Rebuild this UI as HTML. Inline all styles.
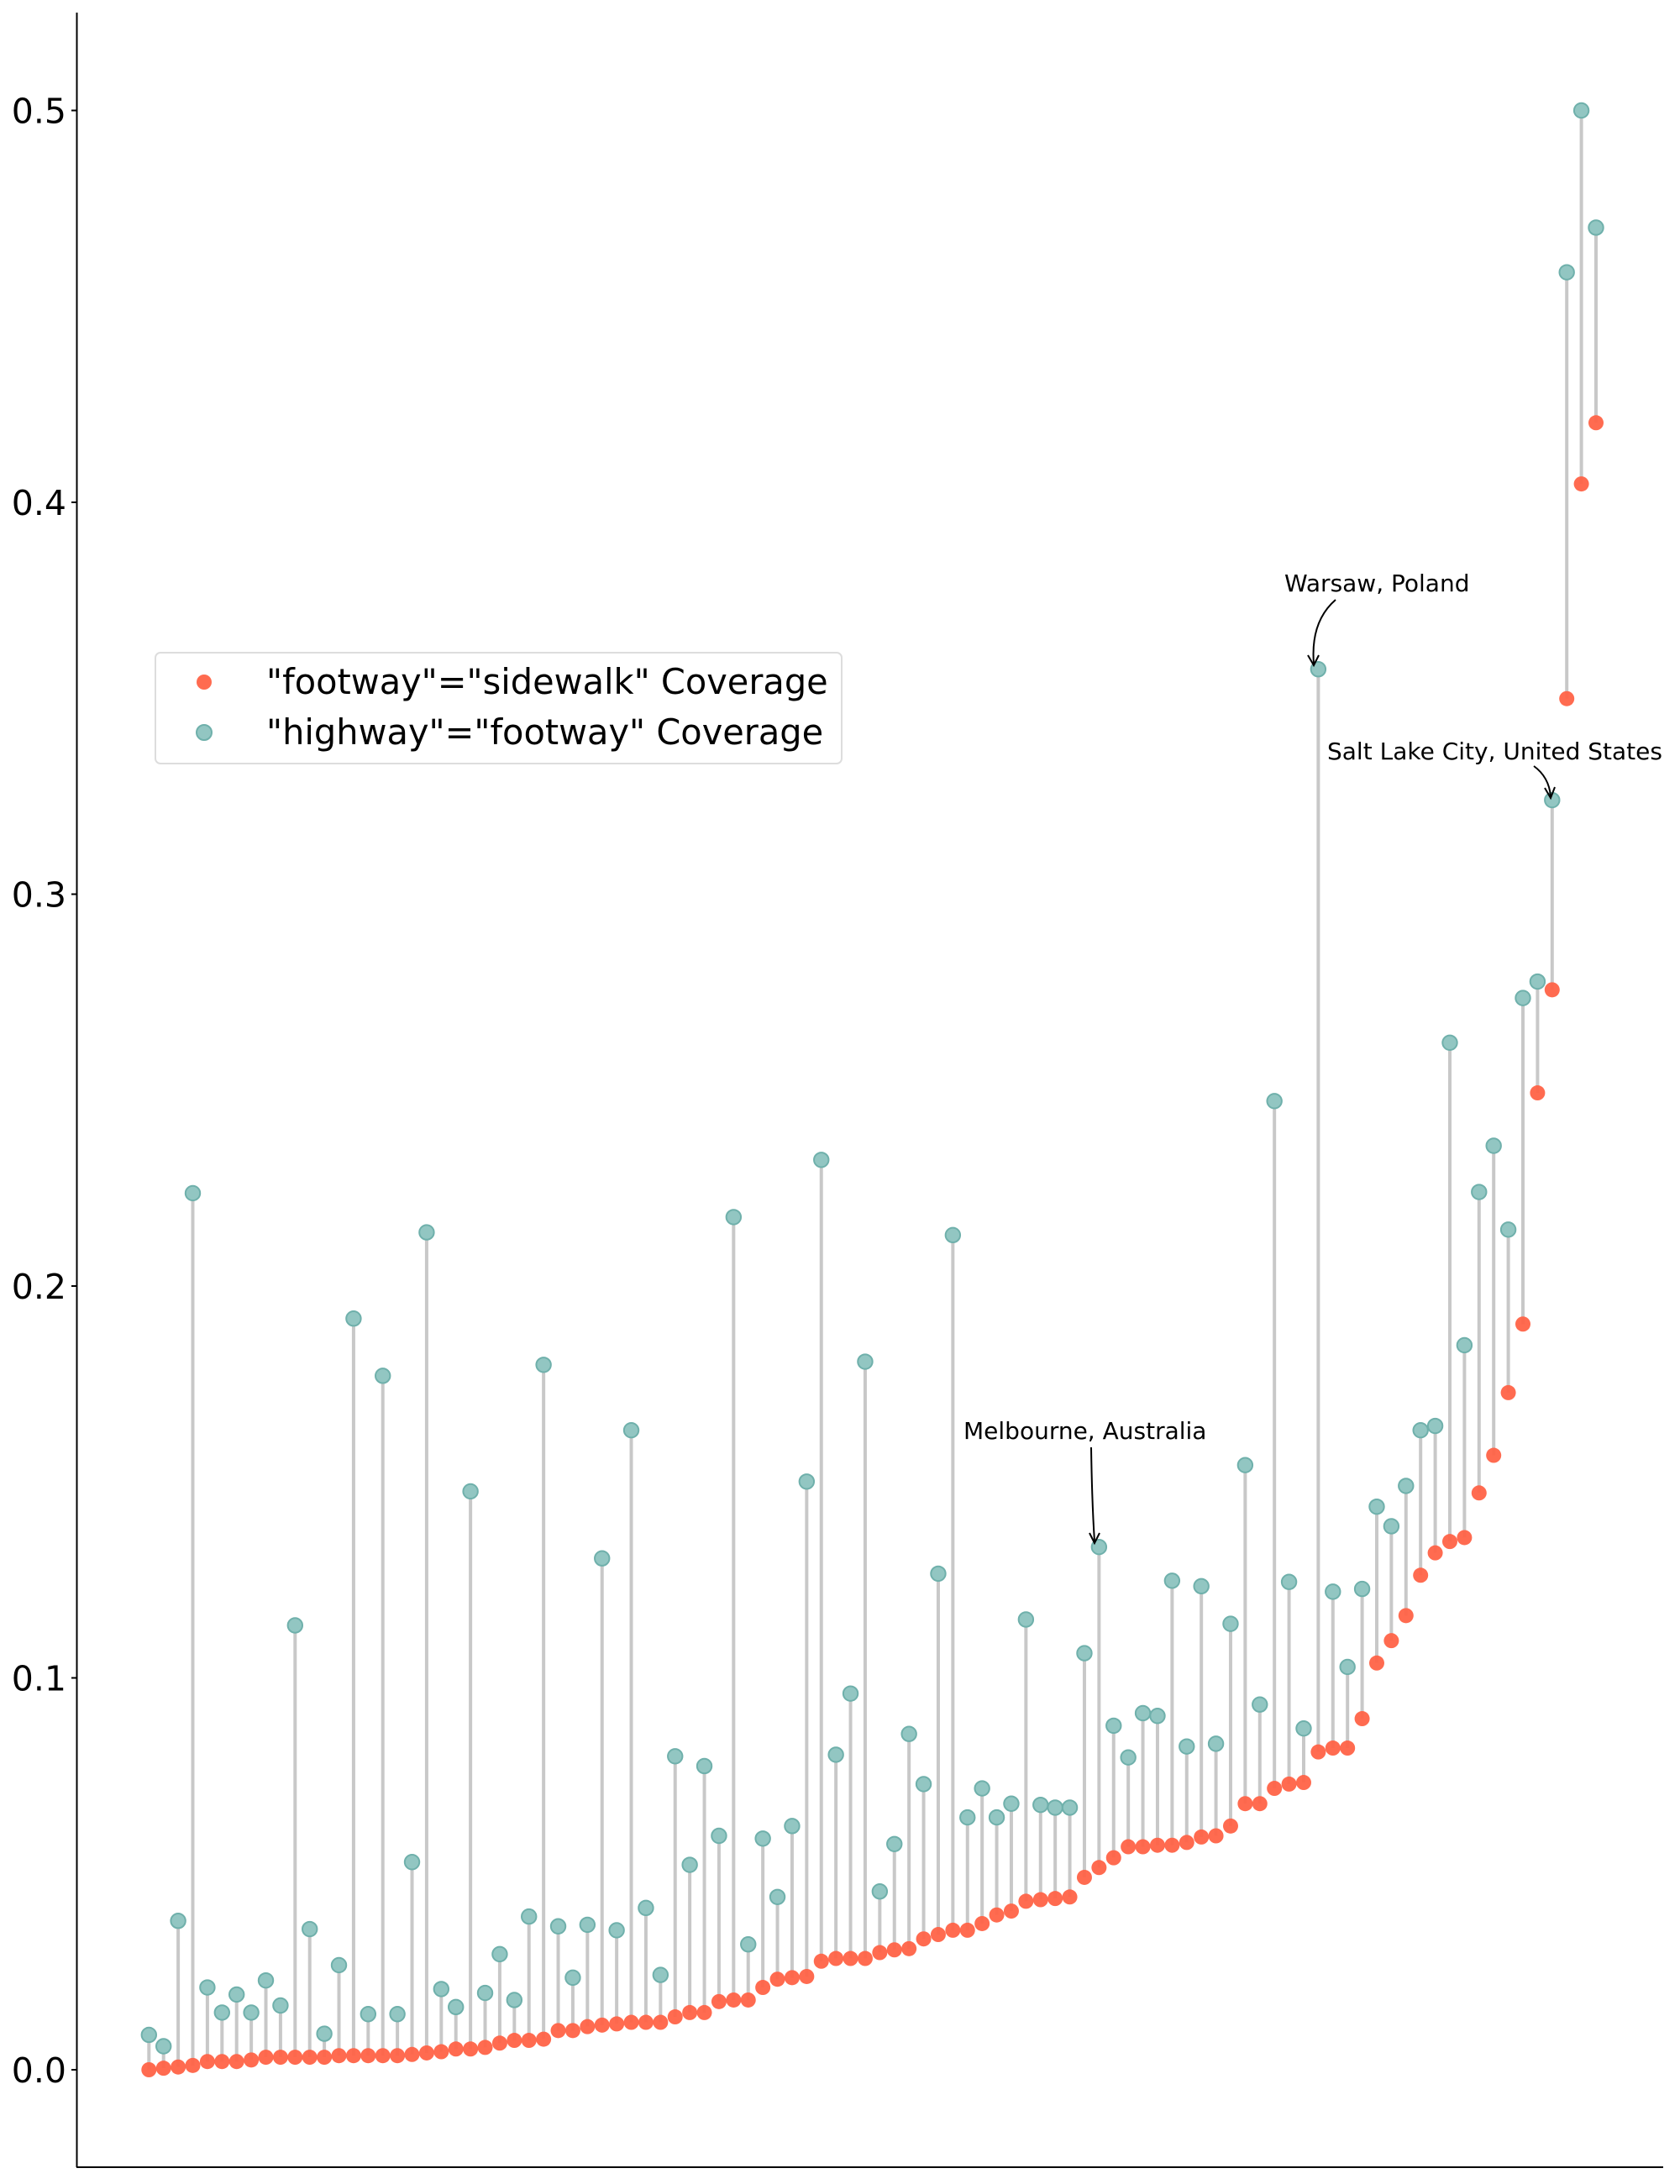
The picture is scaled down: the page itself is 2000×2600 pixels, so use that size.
<!DOCTYPE html>
<html><head><meta charset="utf-8"><style>
html,body{margin:0;padding:0;background:#fff;}
svg{display:block;font-family:"DejaVu Sans","Liberation Sans",sans-serif;}
</style></head><body>
<svg id="chart" width="2000" height="2600" viewBox="0 0 2000 2600" xmlns="http://www.w3.org/2000/svg">
<g id="axes">
<line x1="91.5" y1="15" x2="91.5" y2="2580" stroke="#000" stroke-width="2"/>
<line x1="91" y1="2580" x2="1980" y2="2580" stroke="#000" stroke-width="2"/>
</g>
<g id="stems"></g>
<g id="reds"></g>
<g id="greens"></g>
<g id="ticks"></g>
<g>
<rect x="185" y="777" width="817" height="132" rx="6" fill="#fff" fill-opacity="0.8" stroke="#ddd" stroke-width="2"/>
<circle cx="243" cy="812" r="9" fill="#ff6347" fill-opacity="0.95"/>
<text x="317" y="826" font-size="41.5">"footway"="sidewalk" Coverage</text>
<circle cx="243" cy="872" r="9" fill="#92c6c2" stroke="#6fb0ab" stroke-width="2"/>
<text x="317" y="886" font-size="41.5">"highway"="footway" Coverage</text>
</g>
<g>
<text x="1529" y="704" font-size="28">Warsaw, Poland</text>
<path d="M1590,714 Q1560,740 1564,790" fill="none" stroke="#000" stroke-width="2"/>
<path d="M1557,780 L1564,792 L1570,780" fill="none" stroke="#000" stroke-width="2"/>
<text x="1580" y="904" font-size="28">Salt Lake City, United States</text>
<path d="M1826,912 Q1844,925 1846,948" fill="none" stroke="#000" stroke-width="2"/>
<path d="M1839,938 L1846,950 L1851,937" fill="none" stroke="#000" stroke-width="2"/>
<text x="1147" y="1713" font-size="28">Melbourne, Australia</text>
<path d="M1299,1723 Q1300,1790 1303,1835" fill="none" stroke="#000" stroke-width="2"/>
<path d="M1297,1825 L1303,1837 L1309,1825" fill="none" stroke="#000" stroke-width="2"/>
</g>
</svg>
<script>
const sidewalk = [0,0.0004,0.0007,0.0011,0.0021,0.0021,0.0021,0.0025,0.0032,0.0032,0.0032,0.0032,0.0032,0.0036,0.0036,0.0036,0.0036,0.0036,0.0039,0.0043,0.0046,0.0053,0.0053,0.0057,0.0068,0.0075,0.0075,0.0078,0.01,0.01,0.011,0.0114,0.0117,0.0121,0.0121,0.0121,0.0135,0.0146,0.0146,0.0174,0.0178,0.0178,0.021,0.0231,0.0235,0.0238,0.0277,0.0284,0.0284,0.0284,0.0299,0.0306,0.0309,0.0334,0.0345,0.0356,0.0356,0.0373,0.0395,0.0405,0.043,0.0434,0.0437,0.0441,0.0491,0.0516,0.0541,0.0569,0.0569,0.0573,0.0573,0.058,0.0594,0.0597,0.0622,0.0679,0.0679,0.0718,0.0729,0.0733,0.0811,0.0821,0.0821,0.0896,0.1038,0.1095,0.1159,0.1262,0.1319,0.1348,0.1358,0.1472,0.1568,0.1728,0.1903,0.2493,0.2756,0.3499,0.4047,0.4203];
const footway = [0.0089,0.006,0.038,0.2237,0.021,0.0146,0.0192,0.0146,0.0228,0.0164,0.1134,0.0359,0.0092,0.0267,0.1917,0.0142,0.1771,0.0142,0.053,0.2137,0.0206,0.016,0.1476,0.0196,0.0295,0.0178,0.0391,0.1799,0.0366,0.0235,0.037,0.1305,0.0356,0.1632,0.0413,0.0242,0.08,0.0523,0.0775,0.0597,0.2176,0.032,0.059,0.0441,0.0622,0.1501,0.2322,0.0804,0.096,0.1807,0.0455,0.0576,0.0857,0.0729,0.1266,0.213,0.0644,0.0718,0.0644,0.0679,0.1149,0.0676,0.0669,0.0669,0.1063,0.1334,0.0878,0.0797,0.091,0.0903,0.1248,0.0825,0.1234,0.0832,0.1138,0.1543,0.0932,0.2472,0.1245,0.0871,0.3574,0.122,0.1028,0.1227,0.1437,0.1387,0.149,0.1632,0.1643,0.2621,0.1849,0.224,0.2358,0.2144,0.2735,0.2777,0.324,0.4587,0.5,0.4701];
const yTicks = [0.0,0.1,0.2,0.3,0.4,0.5];
const yTickLabels = ["0.0","0.1","0.2","0.3","0.4","0.5"];

const NS = "http://www.w3.org/2000/svg";
function xScale(i){ return 177.3 + i * (1900 - 177.3) / (sidewalk.length - 1); }
function yScale(v){ return 2464 - v * 4665; }
function mk(tag, attrs, parent){
  const el = document.createElementNS(NS, tag);
  for (const k in attrs) el.setAttribute(k, attrs[k]);
  parent.appendChild(el);
  return el;
}
const stems = document.getElementById('stems');
const reds = document.getElementById('reds');
const greens = document.getElementById('greens');
const ticks = document.getElementById('ticks');
for (let i = 0; i < sidewalk.length; i++){
  const x = xScale(i);
  const s = mk('line', {x1:x, x2:x, y1:yScale(sidewalk[i]), y2:yScale(footway[i]), stroke:'#c8c8c8', 'stroke-width':4}, stems);
  
  
  const r = mk('circle', {cx:x, cy:yScale(sidewalk[i]), r:9, fill:'#ff6347', 'fill-opacity':0.95}, reds);
  
  
  const g = mk('circle', {cx:x, cy:yScale(footway[i]), r:8.7, fill:'#92c6c2', stroke:'#6fb0ab', 'stroke-width':2}, greens);
  
  
}
for (let j = 0; j < yTicks.length; j++){
  const y = yScale(yTicks[j]);
  const t = mk('line', {x1:85, x2:91, y1:y, y2:y, stroke:'#000', 'stroke-width':2}, ticks);
  
  
  const l = mk('text', {x:79, y:y+15, 'text-anchor':'end', 'font-size':41, fill:'#000'}, ticks);
  l.textContent = yTickLabels[j];
  
  
}
</script>
</body></html>
